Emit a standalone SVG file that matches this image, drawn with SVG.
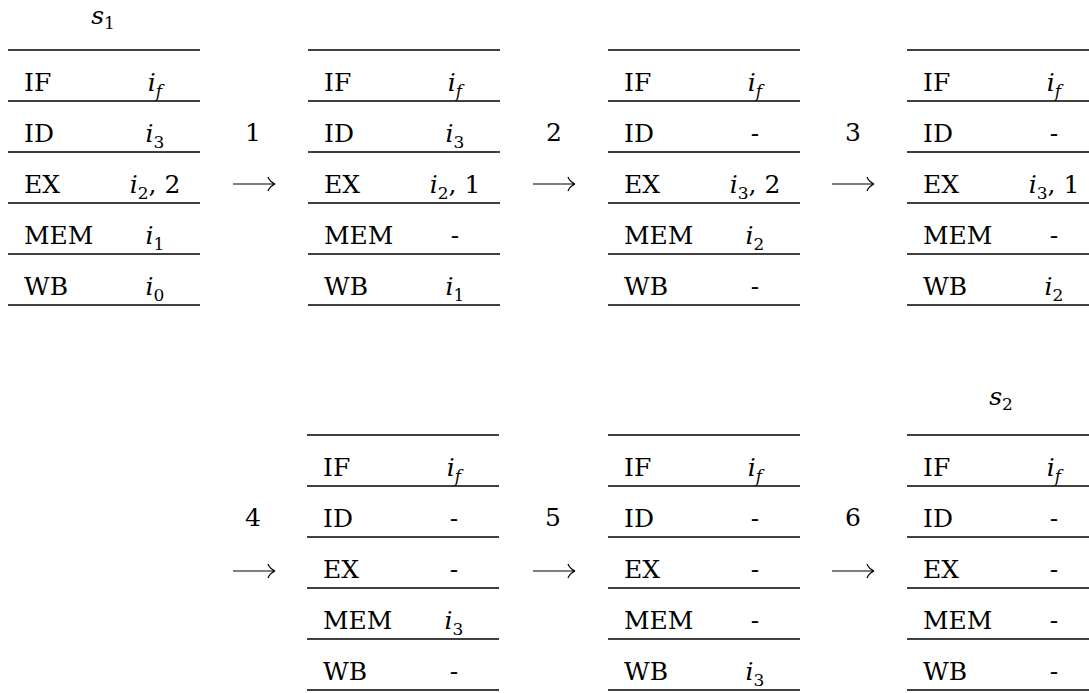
<svg xmlns="http://www.w3.org/2000/svg" width="1089" height="693" viewBox="0 0 1089 693" font-family="DejaVu Serif, serif">
<style>
text{font-family:"DejaVu Serif",serif;font-size:25px;fill:#000}
.v{text-anchor:middle}
.m{font-style:italic}
.s{font-size:17px}
line{stroke:#000;stroke-width:1.3}
.arr{fill:none;stroke:#000;stroke-width:1.2}
.lbl{text-anchor:middle}
</style>
<defs>
<g id="grid">
<line x1="0" y1="0" x2="192" y2="0"/>
<line x1="0" y1="51" x2="192" y2="51"/>
<line x1="0" y1="102" x2="192" y2="102"/>
<line x1="0" y1="153" x2="192" y2="153"/>
<line x1="0" y1="204" x2="192" y2="204"/>
<line x1="0" y1="255" x2="192" y2="255"/>
</g>
<g id="stages">
<text x="16" y="41">IF</text>
<text x="16" y="92">ID</text>
<text x="16" y="143">EX</text>
<text x="16" y="194">MEM</text>
<text x="16" y="245">WB</text>
</g>
<path id="arrow" class="arr" d="M0,0 H42 M42,0 C38,-2 36,-4 35,-7 M42,0 C38,2 36,4 35,7"/>
</defs>

<text class="lbl" x="103" y="24"><tspan class="m">s</tspan><tspan class="s" dy="5">1</tspan></text>
<text class="lbl" x="1001" y="405"><tspan class="m">s</tspan><tspan class="s" dy="5">2</tspan></text>

<g id="state1" transform="translate(8,50)">
<use href="#grid"/><use href="#stages"/>
<text class="v" x="147" y="41"><tspan class="m">i</tspan><tspan class="s m" dy="6">f</tspan></text>
<text class="v" x="147" y="92"><tspan class="m">i</tspan><tspan class="s" dy="6">3</tspan></text>
<text class="v" x="147" y="143"><tspan class="m">i</tspan><tspan class="s" dy="6">2</tspan><tspan dy="-6">, 2</tspan></text>
<text class="v" x="147" y="194"><tspan class="m">i</tspan><tspan class="s" dy="6">1</tspan></text>
<text class="v" x="147" y="245"><tspan class="m">i</tspan><tspan class="s" dy="6">0</tspan></text>
</g>

<g id="state2" transform="translate(308,50)">
<use href="#grid"/><use href="#stages"/>
<text class="v" x="147" y="41"><tspan class="m">i</tspan><tspan class="s m" dy="6">f</tspan></text>
<text class="v" x="147" y="92"><tspan class="m">i</tspan><tspan class="s" dy="6">3</tspan></text>
<text class="v" x="147" y="143"><tspan class="m">i</tspan><tspan class="s" dy="6">2</tspan><tspan dy="-6">, 1</tspan></text>
<text class="v" x="147" y="194">-</text>
<text class="v" x="147" y="245"><tspan class="m">i</tspan><tspan class="s" dy="6">1</tspan></text>
</g>

<g id="state3" transform="translate(608,50)">
<use href="#grid"/><use href="#stages"/>
<text class="v" x="147" y="41"><tspan class="m">i</tspan><tspan class="s m" dy="6">f</tspan></text>
<text class="v" x="147" y="92">-</text>
<text class="v" x="147" y="143"><tspan class="m">i</tspan><tspan class="s" dy="6">3</tspan><tspan dy="-6">, 2</tspan></text>
<text class="v" x="147" y="194"><tspan class="m">i</tspan><tspan class="s" dy="6">2</tspan></text>
<text class="v" x="147" y="245">-</text>
</g>

<g id="state4" transform="translate(907,50)">
<use href="#grid"/><use href="#stages"/>
<text class="v" x="147" y="41"><tspan class="m">i</tspan><tspan class="s m" dy="6">f</tspan></text>
<text class="v" x="147" y="92">-</text>
<text class="v" x="147" y="143"><tspan class="m">i</tspan><tspan class="s" dy="6">3</tspan><tspan dy="-6">, 1</tspan></text>
<text class="v" x="147" y="194">-</text>
<text class="v" x="147" y="245"><tspan class="m">i</tspan><tspan class="s" dy="6">2</tspan></text>
</g>

<g id="state5" transform="translate(307,435)">
<use href="#grid"/><use href="#stages"/>
<text class="v" x="147" y="41"><tspan class="m">i</tspan><tspan class="s m" dy="6">f</tspan></text>
<text class="v" x="147" y="92">-</text>
<text class="v" x="147" y="143">-</text>
<text class="v" x="147" y="194"><tspan class="m">i</tspan><tspan class="s" dy="6">3</tspan></text>
<text class="v" x="147" y="245">-</text>
</g>

<g id="state6" transform="translate(608,435)">
<use href="#grid"/><use href="#stages"/>
<text class="v" x="147" y="41"><tspan class="m">i</tspan><tspan class="s m" dy="6">f</tspan></text>
<text class="v" x="147" y="92">-</text>
<text class="v" x="147" y="143">-</text>
<text class="v" x="147" y="194">-</text>
<text class="v" x="147" y="245"><tspan class="m">i</tspan><tspan class="s" dy="6">3</tspan></text>
</g>

<g id="state7" transform="translate(907,435)">
<use href="#grid"/><use href="#stages"/>
<text class="v" x="147" y="41"><tspan class="m">i</tspan><tspan class="s m" dy="6">f</tspan></text>
<text class="v" x="147" y="92">-</text>
<text class="v" x="147" y="143">-</text>
<text class="v" x="147" y="194">-</text>
<text class="v" x="147" y="245">-</text>
</g>

<g id="connectors">
<text class="lbl" x="253" y="141">1</text>
<use href="#arrow" x="233" y="184"/>
<text class="lbl" x="554" y="141">2</text>
<use href="#arrow" x="533" y="184"/>
<text class="lbl" x="853" y="141">3</text>
<use href="#arrow" x="832" y="184"/>
<text class="lbl" x="253" y="526">4</text>
<use href="#arrow" x="233" y="571"/>
<text class="lbl" x="553" y="526">5</text>
<use href="#arrow" x="533" y="571"/>
<text class="lbl" x="853" y="526">6</text>
<use href="#arrow" x="832" y="571"/>
</g>
</svg>
